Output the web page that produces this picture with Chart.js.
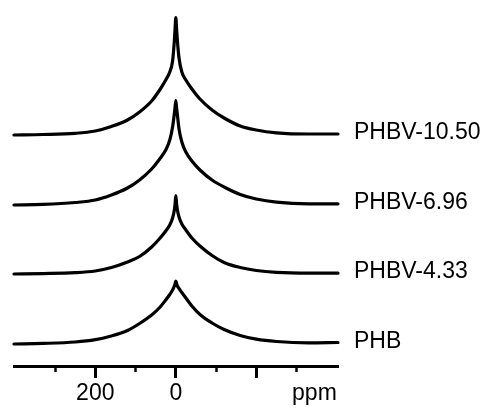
<!DOCTYPE html>
<html><head><meta charset="utf-8">
<script src="https://cdn.jsdelivr.net/npm/chart.js@4.4.1/dist/chart.umd.min.js"></script>
<style>html,body{margin:0;padding:0;background:#fff}#wrap{width:485px;height:410px}</style>
</head><body><div id="wrap"><canvas id="c" width="485" height="410"></canvas></div>
<script>
// chemical shift grid (ppm), shared by all spectra
const ppm = [402, 330, 250, 200, 160, 120, 90, 60, 40, 25, 15, 8, 4, 2, 0, -2, -4, -8, -15, -25, -40, -60, -90, -120, -160, -200, -250, -330, -403];
// series names (bottom to top) and vertical stacking offsets
const seriesNames = ['PHB', 'PHBV-4.33', 'PHBV-6.96', 'PHBV-10.50'];
const offsets = [22, 92, 161, 231];
// intensities (arbitrary units)
const phb      = [0, 0.6, 2, 4.3, 8, 13.5, 20.5, 29, 36.5, 44, 49.5, 54, 57.5, 60, 63, 60.5, 58, 55.5, 51.5, 46, 38, 29.5, 21, 14.5, 8.5, 4.8, 2.5, 1.2, 1.5];
const phbv433  = [0, 0.4, 1.3, 3, 6.5, 12, 17.5, 27, 35.5, 43, 49, 56, 63, 69, 78.5, 70, 64, 57, 50, 44, 36, 28, 18.5, 11.5, 6.5, 3.5, 1.6, 0.8, 0.8];
const phbv696  = [0, 0.6, 2.5, 5, 10, 17, 25, 36, 46, 55, 65, 78, 90, 97, 104.5, 97, 90, 76, 63, 53, 44, 35, 25, 18, 10.5, 6, 2.8, 1.2, 1.2];
const phbv1050 = [0, 0.5, 1.7, 4, 8.5, 15, 23, 34, 45, 55, 63, 74, 92, 105, 117.5, 106, 94, 77, 63, 55, 46, 36, 25, 17, 9, 5, 2.2, 1, 1];
// x axis ticks and labels
const xMajorTicks = [-400, -200, 0, 200, 400];
const xMinorTicks = [-300, -100, 100, 300];
const xTickLabels = {'200': '200', '0': '0', '-400': 'ppm'};

const FONT = "'Liberation Sans', Arial, sans-serif";
const seriesValues = [phb, phbv433, phbv696, phbv1050];
const datasets = seriesValues.map((vals, i) => ({
  label: seriesNames[i],
  data: ppm.map((p, j) => ({x: p, y: offsets[i] + vals[j]})),
  borderColor: '#000', borderWidth: 3.2, pointRadius: 0, fill: false,
  cubicInterpolationMode: 'monotone', borderJoinStyle: 'round', borderCapStyle: 'round', clip: false
}));

new Chart(document.getElementById('c'), {
  type: 'line',
  data: {datasets},
  options: {
    responsive: false, animation: false, devicePixelRatio: 1,
    layout: {padding: {left: 14, top: 14, right: 0, bottom: 0}},
    plugins: {legend: {display: false}, tooltip: {enabled: false}},
    scales: {
      x: {
        type: 'linear', position: 'bottom', reverse: true, min: -403, max: 402,
        afterBuildTicks: s => { s.ticks = xMajorTicks.map(v => ({value: v})); },
        afterFit: s => { s.height = 44; },
        ticks: {autoSkip: false, maxRotation: 0, align: 'inner',
          padding: 2, color: '#000', font: {family: FONT, size: 23},
          callback: v => xTickLabels[String(v)] ?? ''},
        grid: {drawOnChartArea: false, drawTicks: true, tickLength: 12, tickWidth: 3,
          tickColor: c => (c.tick && Math.abs(c.tick.value) < 400) ? '#000' : 'rgba(0,0,0,0)'},
        border: {display: true, color: '#000', width: 3}
      },
      xm: {
        type: 'linear', axis: 'x', position: {y: 0}, reverse: true, min: -403, max: 402,
        afterBuildTicks: s => { s.ticks = xMinorTicks.map(v => ({value: v})); },
        ticks: {display: false},
        grid: {drawOnChartArea: false, drawTicks: true, tickLength: 6, tickWidth: 2.5, tickColor: '#000'},
        border: {display: false}
      },
      y: {
        type: 'linear', position: 'right', min: 0, max: 352,
        afterBuildTicks: s => { s.ticks = offsets.map(v => ({value: v})); },
        afterFit: s => { s.width = 147; s.paddingTop = 0; s.paddingBottom = 0; },
        ticks: {padding: 16, labelOffset: -2, color: '#000', font: {family: FONT, size: 23},
          callback: v => seriesNames[offsets.indexOf(v)] ?? ''},
        grid: {display: false, drawTicks: false},
        border: {display: false}
      }
    }
  }
});
</script>
</body></html>
